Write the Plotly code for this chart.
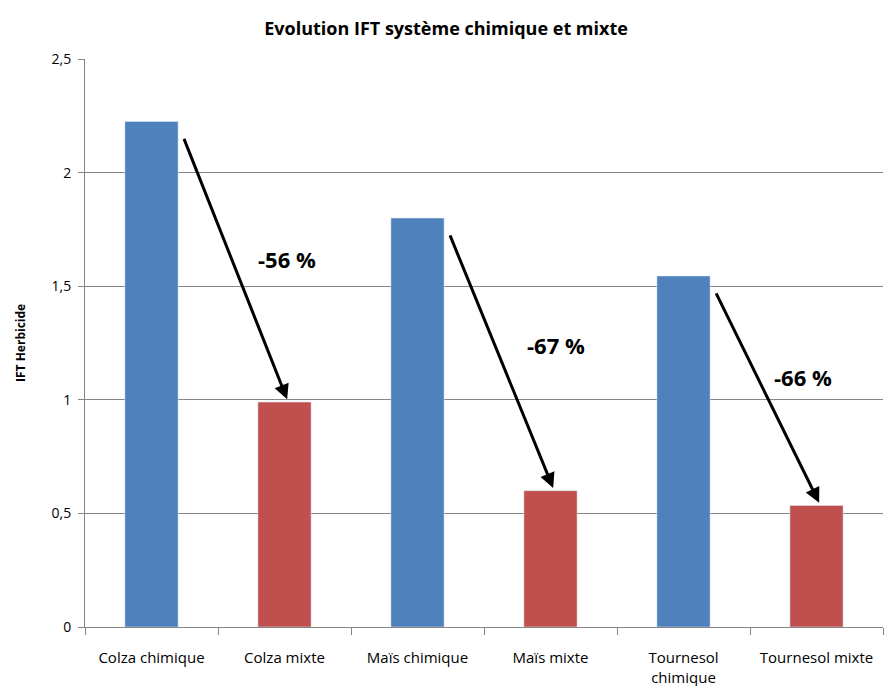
import plotly.graph_objects as go

categories = ["Colza chimique", "Colza mixte", "Maïs chimique", "Maïs mixte",
              "Tournesol<br>chimique", "Tournesol mixte"]
ift_values = [2.225, 0.99, 1.80, 0.60, 1.545, 0.535]
bar_colors = ["#4F81BD", "#C0504D", "#4F81BD", "#C0504D", "#4F81BD", "#C0504D"]
reductions = ["-56 %", "-67 %", "-66 %"]
label_pos = [(1.02, 1.62), (3.04, 1.24), (4.9, 1.10)]

FONT = "Open Sans, sans-serif"

fig = go.Figure()
fig.add_trace(go.Bar(x=categories, y=ift_values, marker_color=bar_colors,
                     width=0.4, showlegend=False))

for k in range(3):
    i = 2 * k
    fig.add_annotation(x=i + 1.02, y=ift_values[i + 1] + 0.012,
                       ax=i + 0.24, ay=ift_values[i] - 0.07,
                       xref="x", yref="y", axref="x", ayref="y",
                       showarrow=True, arrowhead=2, arrowsize=1.0,
                       arrowwidth=3, arrowcolor="black", text="")
    lx, ly = label_pos[k]
    fig.add_annotation(x=lx, y=ly, xref="x", yref="y", text="<b>%s</b>" % reductions[k],
                       showarrow=False, font=dict(size=22, color="black", family=FONT))

fig.add_annotation(x=-0.0815, y=0.5, xref="paper", yref="paper", text="<b>IFT Herbicide</b>",
                   textangle=-90, showarrow=False, xanchor="center", yanchor="middle",
                   font=dict(size=12, color="black", family=FONT))

fig.update_layout(
    width=885, height=678,
    paper_bgcolor="white", plot_bgcolor="white",
    separators=", ",
    margin=dict(l=77, r=10, t=51, b=59, autoexpand=False),
    title=dict(text="<b>Evolution IFT système chimique et mixte</b>", x=0.495, xanchor="center",
               xref="container", y=0.97, yanchor="middle",
               font=dict(size=18, color="black", family=FONT)),
    font=dict(family=FONT, color="black", size=14),
)
fig.update_xaxes(showline=True, linecolor="#868686", linewidth=1, ticks="outside",
                 tickson="boundaries", ticklen=7, tickcolor="#868686",
                 tickfont=dict(size=15, family=FONT), ticklabelstandoff=17,
                 showgrid=False, automargin=False)
fig.update_yaxes(range=[0, 2.5], dtick=0.5, showline=True, linecolor="#868686", linewidth=1,
                 ticks="outside", ticklen=6, tickcolor="#868686", showgrid=True,
                 gridcolor="#868686", gridwidth=1, zeroline=False, automargin=False,
                 tickfont=dict(size=14, family=FONT), ticklabelstandoff=4)

fig.write_html("out.html")
